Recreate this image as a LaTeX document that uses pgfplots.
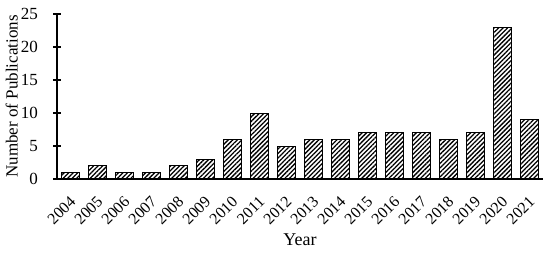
\documentclass[border=0pt]{standalone}
\usepackage{fontspec}
\setmainfont{Liberation Serif}
\usepackage{pgfplots}
\pgfplotsset{compat=1.18}
\usetikzlibrary{patterns.meta}
\begin{document}
\begin{tikzpicture}
\useasboundingbox (0,0) rectangle (550bp,255bp);
\begin{axis}[
  at={(57bp,76bp)}, anchor=south west,
  scale only axis,
  width=486bp, height=165bp,
  ybar, bar width=0.65,
  xmin=-0.5, xmax=17.5,
  ymin=0, ymax=25,
  ytick={0,5,10,15,20,25},
  xtick={0,...,17},
  xticklabels={2004,2005,2006,2007,2008,2009,2010,2011,2012,2013,2014,2015,2016,2017,2018,2019,2020,2021},
  /pgf/number format/assume math mode=true,
  axis x line*=bottom,
  axis y line*=left,
  axis line style={line width=1.2bp},
  x axis line style={-},
  y axis line style={-},
  major x tick style={draw=none},
  ytick style={line width=1.2bp, black},
  major tick length=8bp,
  tick align=center,
  every x tick label/.append style={xshift=-1.5bp, yshift=-12bp, rotate=45, anchor=north east, font=\fontsize{16bp}{16bp}\selectfont, inner sep=0bp},
  every y tick label/.append style={font=\fontsize{17bp}{17bp}\selectfont, anchor=east, inner sep=0bp, xshift=-15bp},
  ylabel={Number of Publications},
  xlabel={Year},
  label style={font=\fontsize{17bp}{17bp}\selectfont},
  ylabel style={at={(axis description cs:-0.093,0.5)}, anchor=center},
  xlabel style={at={(axis description cs:0.5,-0.37)}, anchor=center, font=\fontsize{18bp}{18bp}\selectfont},
]
\addplot[draw=black, line width=1bp, pattern={Lines[angle=45,distance=3.2bp,line width=1.3bp]}, pattern color=black] coordinates {
(0,1) (1,2) (2,1) (3,1) (4,2) (5,3) (6,6) (7,10) (8,5) (9,6) (10,6) (11,7) (12,7) (13,7) (14,6) (15,7) (16,23) (17,9)
};
\end{axis}
\end{tikzpicture}
\end{document}
